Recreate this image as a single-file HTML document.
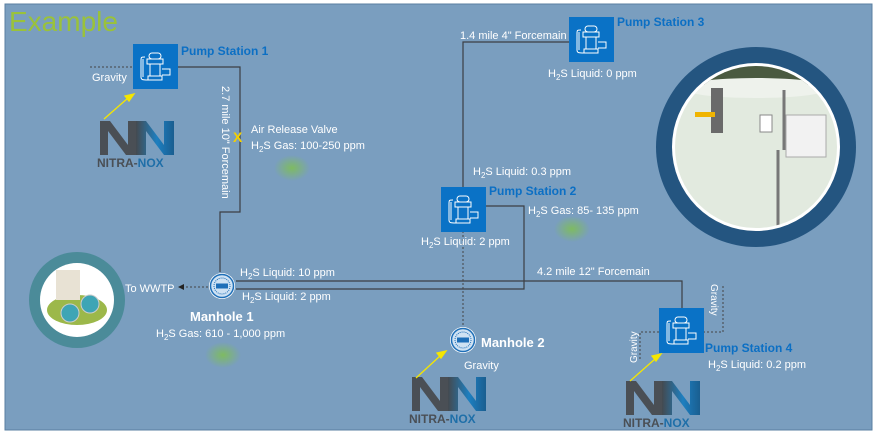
<!DOCTYPE html>
<html><head><meta charset="utf-8"><style>
html,body{margin:0;padding:0;background:#fff;}
svg{display:block;font-family:"Liberation Sans",sans-serif;}
.w{fill:#fff;font-size:11px;}
.b{fill:#0b6fc4;font-size:12px;font-weight:bold;}
</style></head><body>
<svg width="876" height="439" viewBox="0 0 876 439" xmlns="http://www.w3.org/2000/svg">
<defs>
<g id="pump">
<rect x="0" y="0" width="45" height="45" fill="#0a72c6"/>
<g fill="none" stroke="#fff" stroke-width="1">
<rect x="16" y="9" width="12" height="6" rx="3"/>
<rect x="14" y="15" width="16" height="5"/>
<path d="M17 20v12h10v-12 M15 32h14v4h-14z M29 25h8v6h-8 M12 13c-4 0-4 0-4 4v16c0 3 2 3 7 3 M10 15v18"/>
</g>
</g>
<linearGradient id="lg" x1="0" x2="1"><stop offset="0" stop-color="#444a50"/><stop offset=".55" stop-color="#1d7fc0"/><stop offset="1" stop-color="#1a5e90"/></linearGradient>
<g id="logo">
<path d="M0 0h10l18 24v-24h8v34h-10l-18-24v24h-8z" fill="#4a4f55"/>
<path d="M36 0h10l18 24v-24h10v34h-10l-18-24v24h-10z" fill="url(#lg)"/>
<text x="-3" y="46" font-size="12" font-weight="bold" fill="#4a4f55">NITRA-<tspan fill="#1f6fa8">NOX</tspan></text>
</g>
<g id="mh">
<circle r="13" fill="#fff"/><circle r="11.5" fill="#cfe2f3" stroke="#1e6fb8" stroke-width="1.5"/>
<circle r="8" fill="none" stroke="#1e6fb8" stroke-width="1" stroke-dasharray="1 1"/>
<rect x="-6" y="-2.5" width="12" height="5" fill="#1e6fb8"/>
</g>
<radialGradient id="gas"><stop offset="0" stop-color="#7fc24a" stop-opacity=".8"/><stop offset="1" stop-color="#7fc24a" stop-opacity="0"/></radialGradient>
<clipPath id="cp"><circle cx="756" cy="147" r="81"/></clipPath>
</defs>
<rect x="5" y="4" width="867" height="426" fill="#7a9ebf" stroke="#5a7fa0" stroke-width="1"/>
<text x="9" y="31" font-size="28" fill="#9ac23a">Example</text>

<ellipse cx="292" cy="168" rx="18" ry="13" fill="url(#gas)"/>
<ellipse cx="572" cy="229" rx="18" ry="13" fill="url(#gas)"/>
<ellipse cx="223" cy="355" rx="18" ry="13" fill="url(#gas)"/>

<g fill="none" stroke="#3c3f44" stroke-width="1.2">
<path d="M178 67H240V212H220V272"/>
<path d="M236 281H682V308"/>
<path d="M236 289H524V206H486"/>
<path d="M463 187V42H569"/>
</g>
<g fill="none" stroke="#444" stroke-width="1" stroke-dasharray="2 2">
<path d="M90 67H133"/>
<path d="M463 231V328"/>
<path d="M659 332H640V360"/>
<path d="M703 332H723V285"/>
<path d="M208 287H182"/>
</g>
<path d="M178 287l6-3v6z" fill="#222"/>

<use href="#pump" x="133" y="44"/>
<use href="#pump" x="441" y="187"/>
<use href="#pump" x="569" y="17"/>
<use href="#pump" x="659" y="308"/>

<use href="#mh" x="222" y="286"/>
<use href="#mh" x="463" y="340"/>

<use href="#logo" x="100" y="121"/>
<use href="#logo" x="412" y="377"/>
<use href="#logo" x="626" y="381"/>

<g stroke="#f5e600" stroke-width="1.3" fill="#f5e600">
<line x1="104" y1="119" x2="128" y2="98"/><path d="M134 94l-9 2 4 5z"/>
<line x1="416" y1="378" x2="440" y2="356"/><path d="M446 351l-9 2 4 5z"/>
<line x1="630" y1="381" x2="655" y2="359"/><path d="M661 354l-9 2 4 5z"/>
</g>
<text x="233" y="142" font-size="14" font-weight="bold" fill="#f5d000">X</text>

<circle cx="77" cy="300" r="48" fill="#4b8b99"/>
<circle cx="77" cy="300" r="37" fill="#fff"/>
<ellipse cx="77" cy="310" rx="30" ry="15" fill="#9cb84a"/>
<rect x="56" y="270" width="24" height="30" fill="#e8e2d4"/>
<circle cx="70" cy="313" r="9" fill="#3ea5b5" stroke="#ccc"/>
<circle cx="90" cy="304" r="9" fill="#3ea5b5" stroke="#ccc"/>

<circle cx="756" cy="147" r="100" fill="#245580"/>
<circle cx="756" cy="147" r="84" fill="#fff"/>
<g clip-path="url(#cp)">
<rect x="670" y="60" width="175" height="180" fill="#e2eadf"/>
<rect x="670" y="60" width="175" height="25" fill="#4a5a40"/>
<ellipse cx="756" cy="88" rx="75" ry="10" fill="#eef2ec"/>
<rect x="711" y="88" width="12" height="45" fill="#6a6a6a"/>
<rect x="695" y="112" width="20" height="5" fill="#f0b400"/>
<rect x="786" y="115" width="40" height="42" fill="#f2f2f2" stroke="#aaa"/>
<rect x="760" y="115" width="12" height="17" fill="#fff" stroke="#888"/>
<path d="M784 90V150 M778 150V240" stroke="#777" stroke-width="3" fill="none"/>
</g>

<text class="b" x="181" y="55">Pump Station 1</text>
<text class="w" x="92" y="81">Gravity</text>
<text class="w" x="222" y="86" transform="rotate(90 222 86)">2.7 mile 10" Forcemain</text>
<text class="w" x="251" y="133">Air Release Valve</text>
<text class="w" x="251" y="149">H<tspan font-size="8" dy="3">2</tspan><tspan dy="-3">S Gas: 100-250 ppm</tspan></text>
<text class="w" x="460" y="39">1.4 mile 4" Forcemain</text>
<text class="b" x="617" y="26">Pump Station 3</text>
<text class="w" x="548" y="77">H<tspan font-size="8" dy="3">2</tspan><tspan dy="-3">S Liquid: 0 ppm</tspan></text>
<text class="w" x="473" y="175">H<tspan font-size="8" dy="3">2</tspan><tspan dy="-3">S Liquid: 0.3 ppm</tspan></text>
<text class="b" x="489" y="195">Pump Station 2</text>
<text class="w" x="528" y="214">H<tspan font-size="8" dy="3">2</tspan><tspan dy="-3">S Gas: 85- 135 ppm</tspan></text>
<text class="w" x="421" y="245">H<tspan font-size="8" dy="3">2</tspan><tspan dy="-3">S Liquid: 2 ppm</tspan></text>
<text class="w" x="537" y="275">4.2 mile 12" Forcemain</text>
<text class="w" x="240" y="276">H<tspan font-size="8" dy="3">2</tspan><tspan dy="-3">S Liquid: 10 ppm</tspan></text>
<text class="w" x="242" y="300">H<tspan font-size="8" dy="3">2</tspan><tspan dy="-3">S Liquid: 2 ppm</tspan></text>
<text class="w" x="125" y="292">To WWTP</text>
<text x="190" y="321" font-size="13" font-weight="bold" fill="#fff">Manhole 1</text>
<text class="w" x="156" y="337">H<tspan font-size="8" dy="3">2</tspan><tspan dy="-3">S Gas: 610 - 1,000 ppm</tspan></text>
<text x="481" y="347" font-size="13" font-weight="bold" fill="#fff">Manhole 2</text>
<text class="w" x="464" y="369">Gravity</text>
<text class="b" x="705" y="352">Pump Station 4</text>
<text class="w" x="708" y="368">H<tspan font-size="8" dy="3">2</tspan><tspan dy="-3">S Liquid: 0.2 ppm</tspan></text>
<text class="w" x="711" y="284" transform="rotate(90 711 284)" style="font-size:10px">Gravity</text>
<text class="w" x="637" y="363" transform="rotate(-90 637 363)" style="font-size:10px">Gravity</text>
</svg>
</body></html>
